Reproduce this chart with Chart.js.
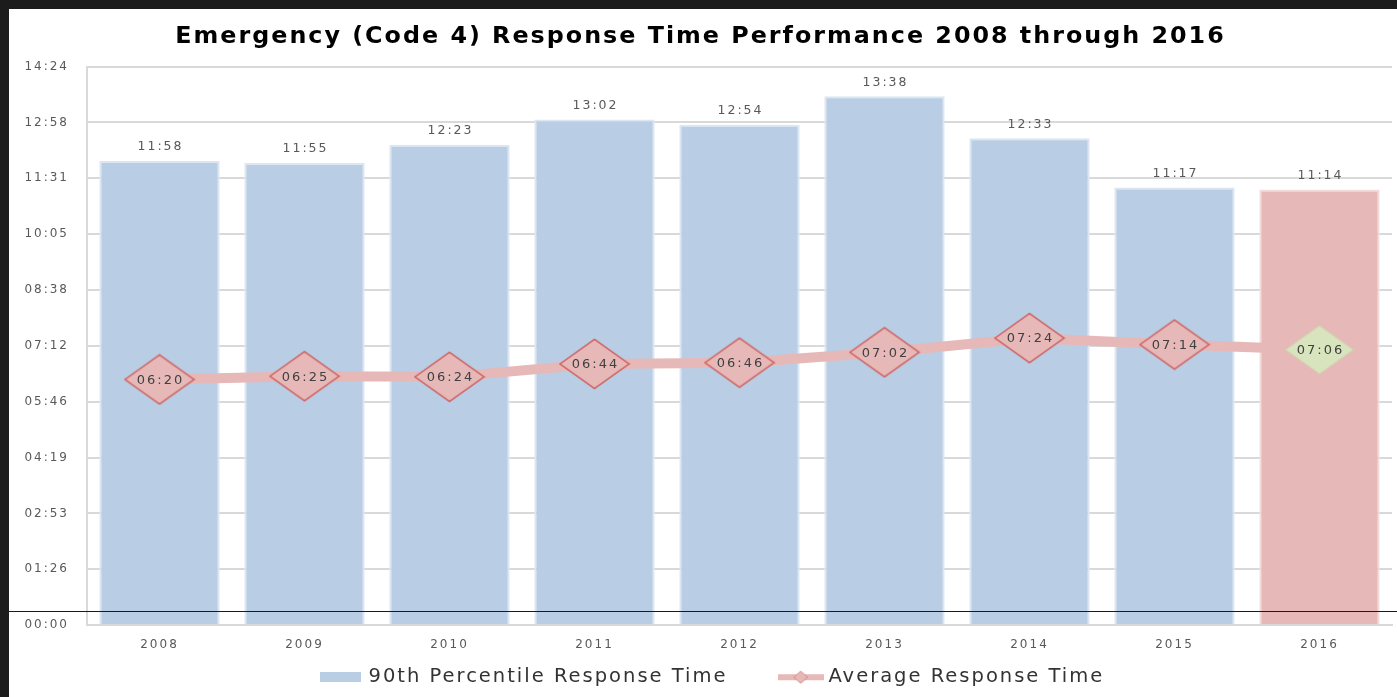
<!DOCTYPE html>
<html>
<head>
<meta charset="utf-8">
<script src="https://cdn.jsdelivr.net/npm/chart.js@4.4.1/dist/chart.umd.min.js"></script>
<style>
    html, body { margin: 0; padding: 0; background: #1c1c1c; overflow: hidden; }
    #frame { position: absolute; left: 9px; top: 9px; width: 1388px; height: 688px; background: #fff; }
    #rule { position: absolute; left: 9px; top: 611px; width: 1388px; height: 1px; background: #1a1a1a; }
</style>
</head>
<body>
<div id="frame"><canvas id="chart" width="1388" height="688"></canvas></div>
<div id="rule"></div>
<script>
// values (mm:ss)
const years = ["2008", "2009", "2010", "2011", "2012", "2013", "2014", "2015", "2016"];
const p90Times = ["11:58", "11:55", "12:23", "13:02", "12:54", "13:38", "12:33", "11:17", "11:14"];
const avgTimes = ["06:20", "06:25", "06:24", "06:44", "06:46", "07:02", "07:24", "07:14", "07:06"];
const yTickLabels = ["00:00", "01:26", "02:53", "04:19", "05:46", "07:12", "08:38", "10:05", "11:31", "12:58", "14:24"];

const toSeconds = s => {
    const [m, sec] = s.split(":").map(Number);
    return m * 60 + sec;
};

const p90Data = p90Times.map(toSeconds);
const avgData = avgTimes.map(toSeconds);
const yMax = toSeconds(yTickLabels[yTickLabels.length - 1]);
const yStep = yMax / (yTickLabels.length - 1);

const blue = "#b9cde5";
const pink = "#e6b9b8";
const lastIdx = years.length - 1;

// diamond marker drawn once into a small canvas
function diamond(w, h, fill, stroke) {
    const c = document.createElement("canvas");
    c.width = w;
    c.height = h;
    const g = c.getContext("2d");
    g.beginPath();
    g.moveTo(1.5, h / 2);
    g.lineTo(w / 2, 1.5);
    g.lineTo(w - 1.5, h / 2);
    g.lineTo(w / 2, h - 1.5);
    g.closePath();
    g.fillStyle = fill;
    g.fill();
    g.lineWidth = 1.5;
    g.strokeStyle = stroke;
    g.stroke();
    return c;
}

const redDiamond = diamond(72, 52, pink, "#cf5e5b");
const greenDiamond = diamond(72, 52, "#d7e4bd", "#dcc4b0");

// legend markers
const legendBox = document.createElement("canvas");
legendBox.width = 41;
legendBox.height = 10;
legendBox.getContext("2d").fillStyle = blue;
legendBox.getContext("2d").fillRect(0, 0, 41, 10);

const legendLine = document.createElement("canvas");
legendLine.width = 46;
legendLine.height = 14;
(() => {
    const g = legendLine.getContext("2d");
    g.fillStyle = pink;
    g.fillRect(0, 4, 46, 6);
    g.beginPath();
    g.moveTo(16, 7);
    g.lineTo(23, 1);
    g.lineTo(30, 7);
    g.lineTo(23, 13);
    g.closePath();
    g.fillStyle = pink;
    g.fill();
    g.strokeStyle = "#d98c8a";
    g.lineWidth = 1;
    g.stroke();
})();

const spacing = {
    id: "spacing",
    beforeLayout(chart) { chart.ctx.letterSpacing = "2px"; },
    // legend sits a little right of centre in the original
    afterLayout(chart) {
        chart.legend.left += 13;
        chart.legend.right += 13;
    },
    beforeDraw(chart) { chart.ctx.letterSpacing = "2px"; }
};

const valueLabels = {
    id: "valueLabels",
    afterDatasetsDraw(chart) {
        const ctx = chart.ctx;
        ctx.save();
        ctx.letterSpacing = "2px";
        ctx.textAlign = "center";
        ctx.textBaseline = "middle";

        // bar values above bars
        ctx.font = "12.5px 'DejaVu Sans'";
        ctx.fillStyle = "#595959";
        chart.getDatasetMeta(0).data.forEach((bar, i) => {
            ctx.fillText(p90Times[i], bar.x + 1, bar.y - 14);
        });

        // average values inside the diamonds
        ctx.font = "13px 'DejaVu Sans'";
        ctx.fillStyle = "#404040";
        chart.getDatasetMeta(1).data.forEach((pt, i) => {
            ctx.fillText(avgTimes[i], pt.x + 1, pt.y + 1);
        });
        ctx.restore();
    }
};

const ctx = document.getElementById("chart").getContext("2d");
Chart.defaults.font.family = "'DejaVu Sans', sans-serif";
Chart.defaults.color = "#595959";

new Chart(ctx, {
    data: {
        labels: years,
        datasets: [
            {
                type: "bar",
                label: "90th Percentile Response Time",
                data: p90Data,
                backgroundColor: years.map((y, i) => i === lastIdx ? pink : blue),
                borderColor: years.map((y, i) => i === lastIdx ? "#f2dcdb" : "#dce6f2"),
                borderWidth: 2,
                barPercentage: 0.83,
                categoryPercentage: 1,
                order: 2
            },
            {
                type: "line",
                label: "Average Response Time",
                data: avgData,
                borderColor: pink,
                borderWidth: 10,
                tension: 0,
                pointStyle: years.map((y, i) => i === lastIdx ? greenDiamond : redDiamond),
                order: 1
            }
        ]
    },
    options: {
        responsive: false,
        animation: false,
        events: [],
        layout: { autoPadding: false, padding: { left: 0, right: 5, top: 6, bottom: 0 } },
        plugins: {
            title: {
                display: true,
                text: "Emergency (Code 4) Response Time Performance 2008 through 2016",
                color: "#000",
                font: { size: 23.8, weight: "bold" },
                padding: { top: 8, bottom: 15 }
            },
            legend: {
                position: "bottom",
                labels: {
                    usePointStyle: true,
                    pointStyleWidth: 36,
                    padding: 6,
                    color: "#333",
                    font: { size: 19.5 },
                    generateLabels: () => [
                        { text: "90th Percentile Response Time      ", pointStyle: legendBox, fontColor: "#333", datasetIndex: 0 },
                        { text: "Average Response Time", pointStyle: legendLine, fontColor: "#333", datasetIndex: 1 }
                    ]
                }
            },
            tooltip: { enabled: false }
        },
        scales: {
            x: {
                grid: { display: false },
                border: { color: "#d9d9d9", width: 2 },
                ticks: { color: "#595959", font: { size: 12 }, padding: 5 },
                afterFit: scale => { scale.height += 4; }
            },
            y: {
                min: 0,
                max: yMax,
                border: { color: "#d9d9d9", width: 2 },
                grid: { color: "#d9d9d9", lineWidth: 2, drawTicks: false },
                ticks: {
                    stepSize: yStep,
                    padding: 18,
                    color: "#595959",
                    font: { size: 12 },
                    callback: (v, i) => yTickLabels[i]
                },
                afterFit: scale => { scale.width = 78; }
            }
        }
    },
    plugins: [spacing, valueLabels]
});
</script>
</body>
</html>
